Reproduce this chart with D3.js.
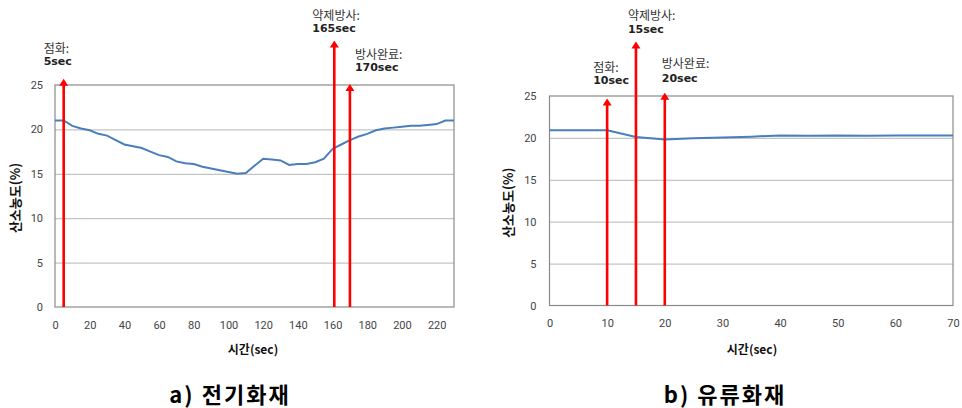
<!DOCTYPE html>
<html>
<head>
<meta charset="utf-8">
<script src="https://cdn.jsdelivr.net/npm/d3@7"></script>
<style>
  body { margin: 0; background: #fff; }
  svg { display: block; }
  text { font-family: "Noto Sans CJK KR", "Noto Sans", sans-serif; }
</style>
</head>
<body>
<div id="chart"></div>
<script>
// 산소농도 변화 - a) 전기화재, b) 유류화재

const yTicks = [0, 5, 10, 15, 20, 25]

// a) 전기화재
const timeA = [0, 5, 10, 15, 20, 25, 30, 35, 40, 45, 50, 55, 60, 65, 70, 75, 80, 85, 90, 95, 100, 105, 110, 115,
	120, 125, 130, 135, 140, 145, 150, 155, 160, 165, 170, 175, 180, 185, 190, 195, 200, 205, 210, 215, 220, 225, 230]
const o2A = [21.0, 21.0, 20.4, 20.1, 19.9, 19.5, 19.3, 18.8, 18.3, 18.1, 17.9, 17.5, 17.1, 16.9, 16.4, 16.2, 16.1, 15.8,
	15.6, 15.4, 15.2, 15.0, 15.1, 15.9, 16.7, 16.6, 16.5, 16.0, 16.1, 16.1, 16.3, 16.7, 17.8, 18.3, 18.8, 19.2, 19.5, 19.9,
	20.1, 20.2, 20.3, 20.4, 20.4, 20.5, 20.6, 21.0, 21.0]
const xTicksA = [0, 20, 40, 60, 80, 100, 120, 140, 160, 180, 200, 220]
const eventTimeA = [5, 161, 170]
const eventTipA = [25.7, 30.0, 25.1]
const eventNameA = ['점화:', '약제방사:', '방사완료:']
const eventSecA = ['5sec', '165sec', '170sec']

// b) 유류화재
const timeB = [0, 5, 10, 15, 20, 25, 30, 35, 40, 45, 50, 55, 60, 65, 70]
const o2B = [20.9, 20.9, 20.9, 20.1, 19.8, 19.95, 20.05, 20.15, 20.3, 20.25, 20.3, 20.25, 20.3, 20.3, 20.3]
const xTicksB = [0, 10, 20, 30, 40, 50, 60, 70]
const eventTimeB = [10, 15, 20]
const eventTipB = [24.7, 31.5, 25.4]
const eventNameB = ['점화:', '약제방사:', '방사완료:']
const eventSecB = ['10sec', '15sec', '20sec']

const width = 962
const height = 408

const svg = d3.select('#chart')
	.append('svg')
	.attr('width', width)
	.attr('height', height)

const drawPanel = (p) => {
	const x = d3.scaleLinear().domain(p.xDomain).range([p.left, p.right])
	const y = d3.scaleLinear().domain([0, 25]).range([p.bottom, p.top])
	const g = svg.append('g')

	// grid
	g.append('g')
		.attr('transform', `translate(${p.left},0)`)
		.call(d3.axisLeft(y).tickValues(yTicks.slice(1, -1)).tickSize(-(p.right - p.left)).tickFormat(''))
		.call(a => a.select('.domain').remove())
		.selectAll('line').attr('stroke', '#c4c4c4').attr('stroke-width', 1.2)

	// frame
	g.append('rect')
		.attr('x', p.left).attr('y', p.top)
		.attr('width', p.right - p.left).attr('height', p.bottom - p.top)
		.attr('fill', 'none').attr('stroke', '#8a8a8a').attr('stroke-width', 1.2)

	// y tick labels
	g.append('g')
		.attr('transform', `translate(${p.left},0)`)
		.call(d3.axisLeft(y).tickValues(yTicks).tickSize(0).tickPadding(p.yPad))
		.call(a => a.select('.domain').remove())
		.selectAll('text')
		.attr('fill', '#444').style('font-family', 'Roboto, "DejaVu Sans", sans-serif').style('font-size', '11px')

	// x tick labels
	g.append('g')
		.attr('transform', `translate(0,${p.bottom})`)
		.call(d3.axisBottom(x).tickValues(p.xTicks).tickSize(0).tickPadding(14))
		.call(a => a.select('.domain').remove())
		.selectAll('text')
		.attr('fill', '#444').style('font-family', 'Roboto, "DejaVu Sans", sans-serif').style('font-size', '11px')

	// O2 line
	const line = d3.line().x((d, i) => x(p.time[i])).y(d => y(d))
	g.append('path')
		.datum(p.o2)
		.attr('d', line)
		.attr('fill', 'none')
		.attr('stroke', '#4a7ebb')
		.attr('stroke-width', 2)

	// event arrows
	p.eventTime.forEach((t, i) => {
		const ax = x(t)
		const tip = y(p.eventTip[i])
		g.append('line')
			.attr('x1', ax).attr('x2', ax)
			.attr('y1', p.bottom).attr('y2', tip + 6)
			.attr('stroke', '#ff0000').attr('stroke-width', 2.6)
		g.append('path')
			.attr('d', `M${ax - 4.5},${tip + 7} L${ax},${tip} L${ax + 4.5},${tip + 7} Z`)
			.attr('fill', '#ff0000')
		const off = p.labelOff[i]
		g.append('text')
			.attr('x', ax + off[0]).attr('y', tip + off[1])
			.attr('fill', '#333').style('font-size', '12px')
			.text(p.eventName[i])
		g.append('text')
			.attr('x', ax + off[0]).attr('y', tip + off[2])
			.attr('fill', '#222').style('font-weight', 'bold')
			.style('font-family', '"DejaVu Sans", sans-serif').style('font-size', '11px')
			.text(p.eventSec[i])
	})

	// axis titles
	g.append('text')
		.attr('transform', `translate(${p.yTitleX},${(p.top + p.bottom) / 2 + 2}) rotate(-90)`)
		.attr('text-anchor', 'middle')
		.style('font-size', '13px').style('font-weight', 'bold').attr('fill', '#111')
		.text('산소농도(%)')
	g.append('text')
		.attr('x', p.xTitleX).attr('y', 354)
		.attr('text-anchor', 'middle')
		.style('font-size', '12px').style('font-weight', 'bold').attr('fill', '#111')
		.text('시간(sec)')

	// caption
	g.append('text')
		.attr('x', p.captionX).attr('y', 403)
		.attr('text-anchor', 'middle')
		.style('font-size', '22px').style('font-weight', 'bold').style('letter-spacing', '2px')
		.attr('fill', '#000')
		.text(p.caption)
}

drawPanel({
	xDomain: [0, 230], left: 55, right: 454, top: 85, bottom: 307,
	time: timeA, o2: o2A, xTicks: xTicksA,
	eventTime: eventTimeA, eventTip: eventTipA, eventName: eventNameA, eventSec: eventSecA,
	labelOff: [[-20, -26, -14], [-22, -21, -9], [5, -25, -13]],
	yPad: 12, yTitleX: 20, xTitleX: 253, captionX: 230, caption: 'a)  전기화재'
})

drawPanel({
	xDomain: [0, 70], left: 549.5, right: 953, top: 96, bottom: 305.5,
	time: timeB, o2: o2B, xTicks: xTicksB,
	eventTime: eventTimeB, eventTip: eventTipB, eventName: eventNameB, eventSec: eventSecB,
	labelOff: [[-14, -27, -15], [-8, -22, -9], [-3, -25, -11]],
	yPad: 13, yTitleX: 513, xTitleX: 752, captionX: 725, caption: 'b)  유류화재'
})
</script>
</body>
</html>
